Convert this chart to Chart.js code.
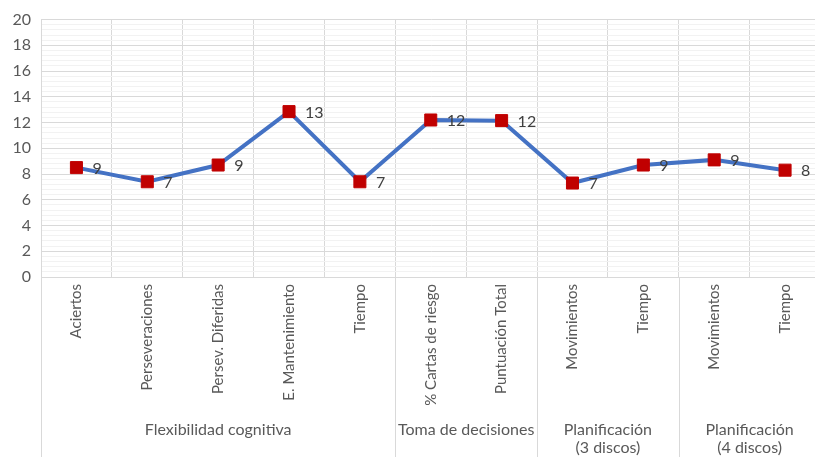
<!DOCTYPE html>
<html>
<head>
<meta charset="utf-8">
<script src="https://cdn.jsdelivr.net/npm/chart.js@4"></script>
<style>
  html, body { margin: 0; padding: 0; background: #fff; overflow: hidden; }
  #wrap { width: 815px; height: 457px; overflow: hidden; }
</style>
</head>
<body>
<div id="wrap"><canvas id="chart" width="830" height="457"></canvas></div>
<script>
const categories = [
  "Aciertos", "Perseveraciones", "Persev. Diferidas", "E. Mantenimiento", "Tiempo",
  "% Cartas de riesgo", "Puntuación Total",
  "Movimientos", "Tiempo",
  "Movimientos", "Tiempo",
];
const values = [8.5, 7.4, 8.7, 12.85, 7.4, 12.2, 12.15, 7.3, 8.7, 9.1, 8.3];
const groupLabels = [
  ["Flexibilidad cognitiva"],
  ["Toma de decisiones"],
  ["Planificación", "(3 discos)"],
  ["Planificación", "(4 discos)"],
];
const groupSizes = [5, 2, 2, 2];
const yMin = 0, yMax = 20, yMajor = 2, yMinor = 0.4;

const FONT = "Lato, 'Liberation Sans', sans-serif";
const TEXT = "#595959";
const GRID = "#d9d9d9";

const ctx = document.getElementById("chart").getContext("2d");

// value labels to the right of each marker
const valueLabels = {
  id: "valueLabels",
  afterDatasetsDraw(chart) {
    const c = chart.ctx;
    const meta = chart.getDatasetMeta(0);
    c.save();
    c.font = "16px " + FONT;
    c.fillStyle = "#404040";
    c.textAlign = "left";
    c.textBaseline = "middle";
    meta.data.forEach((pt, i) => {
      c.fillText(String(Math.round(values[i])), pt.x + 16, pt.y + 1);
    });
    c.restore();
  },
};

// group labels under the rotated category labels
const groupAxis = {
  id: "groupAxis",
  afterDraw(chart) {
    const c = chart.ctx;
    const x = chart.scales.x;
    const area = chart.chartArea;
    const half = (x.getPixelForValue(1) - x.getPixelForValue(0)) / 2;
    const bottom = chart.height;
    c.save();
    c.strokeStyle = GRID;
    c.lineWidth = 1;
    c.font = "16px " + FONT;
    c.fillStyle = TEXT;
    c.textAlign = "center";
    c.textBaseline = "middle";
    let start = 0;
    const edges = [x.getPixelForValue(0) - half];
    groupSizes.forEach((n, g) => {
      const left = x.getPixelForValue(start) - half;
      const right = x.getPixelForValue(start + n - 1) + half;
      edges.push(right);
      const cx = (left + right) / 2;
      groupLabels[g].forEach((line, k) => {
        c.fillText(line, cx, 430 + k * 18);
      });
      start += n;
    });
    edges.forEach(e => {
      const px = Math.round(e) + 0.5;
      c.beginPath();
      c.moveTo(px, area.bottom);
      c.lineTo(px, bottom);
      c.stroke();
    });
    c.restore();
  },
};

new Chart(ctx, {
  type: "line",
  data: {
    labels: categories,
    datasets: [
      {
        data: values,
        borderColor: "#4472C4",
        borderWidth: 4,
        pointStyle: "rect",
        pointRadius: 8.5,
        pointBackgroundColor: "#C00000",
        pointBorderColor: "#C00000",
        pointBorderWidth: 1,
        tension: 0,
      },
    ],
  },
  options: {
    responsive: false,
    animation: false,
    layout: { padding: { top: 17, right: 7, left: 0, bottom: 0 } },
    plugins: {
      legend: { display: false },
      tooltip: { enabled: false },
    },
    scales: {
      x: {
        offset: true,
        grid: { color: GRID, offset: true, drawTicks: false },
        border: { color: GRID },
        ticks: {
          color: TEXT,
          font: { size: 15, family: FONT },
          minRotation: 90,
          maxRotation: 90,
          autoSkip: false,
          padding: 7,
        },
        afterFit(s) { s.height = 180; },
      },
      y: {
        min: yMin,
        max: yMax,
        grid: {
          drawTicks: false,
          color: c => (Math.abs(c.tick.value / yMajor - Math.round(c.tick.value / yMajor)) < 1e-6 ? GRID : "#f2f2f2"),
        },
        border: { color: GRID },
        ticks: {
          stepSize: yMinor,
          autoSkip: false,
          color: TEXT,
          font: { size: 16, family: FONT },
          padding: 10,
          callback: v => (Math.abs(v / yMajor - Math.round(v / yMajor)) < 1e-6 ? String(Math.round(v)) : ""),
        },
        afterFit(s) { s.width = 41; },
      },
    },
  },
  plugins: [valueLabels, groupAxis],
});
</script>
</body>
</html>
